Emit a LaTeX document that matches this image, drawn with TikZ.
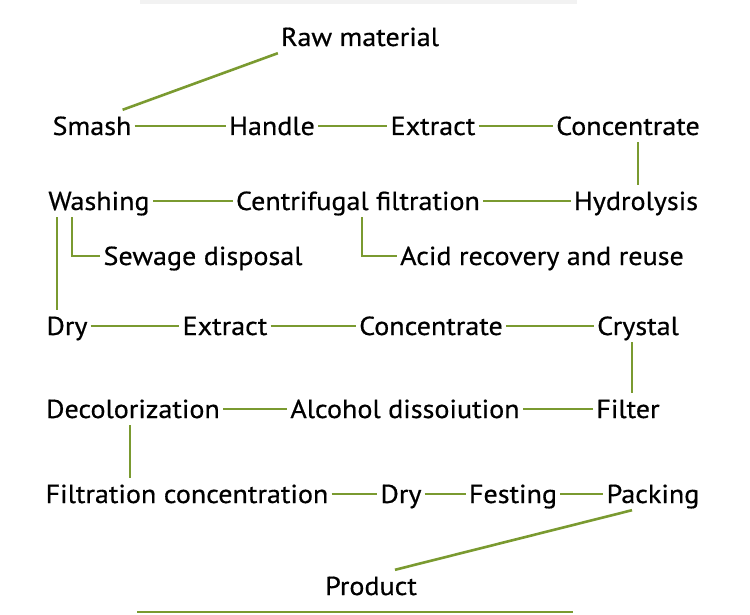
\documentclass[tikz,border=0pt]{standalone}
\usepackage{fontspec}
\setmainfont{PT Sans}[FakeStretch=1.08,FakeBold=0.6]
\definecolor{leaf}{RGB}{122,154,48}
\tikzset{
  stage/.style={anchor=base, inner xsep=3pt, inner ysep=7pt, text height=18pt, text depth=0pt,
    font=\fontsize{26}{30}\selectfont},
  link/.style={draw=leaf, line width=2.6pt},
}
\begin{document}
\begin{tikzpicture}[x=1pt,y=-1pt]
        \useasboundingbox (0,0) rectangle (750,615);
        \fill[black!5] (140,0) rectangle (577,4);
        % stages, row by row
        \node[stage] (raw) at (360,46) {Raw material};
        \node[stage] (smash) at (92,135) {Smash};
        \node[stage] (handle) at (272,135) {Handle};
        \node[stage] (extract1) at (433,135) {Extract};
        \node[stage] (conc1) at (628,135) {Concentrate};
        \node[stage] (wash) at (99,210) {Washing};
        \node[stage] (centri) at (358,210) {Centrifugal filtration};
        \node[stage] (hydro) at (636,210) {Hydrolysis};
        \node[stage] (sewage) at (203,265) {Sewage disposal};
        \node[stage] (acid) at (542,265) {Acid recovery and reuse};
        \node[stage] (dry1) at (67,335) {Dry};
        \node[stage] (extract2) at (225,335) {Extract};
        \node[stage] (conc2) at (431,335) {Concentrate};
        \node[stage] (crystal) at (638,335) {Crystal};
        \node[stage] (decol) at (133,418) {Decolorization};
        \node[stage] (alcohol) at (405,418) {Alcohol dissoiution};
        \node[stage] (filter) at (628,418) {Filter};
        \node[stage] (filtc) at (187,503) {Filtration concentration};
        \node[stage] (dry2) at (401,503) {Dry};
        \node[stage] (festing) at (513,503) {Festing};
        \node[stage] (packing) at (653,503) {Packing};
        \node[stage] (product) at (371,595) {Product};
        % connectors
        \draw[link] (raw.south west) -- ([xshift=-12pt]smash.north east);
        \draw[link] (smash) -- (handle);
        \draw[link] (handle) -- (extract1);
        \draw[link] (extract1) -- (conc1);
        \draw[link] ([xshift=10pt]conc1.south) -- ([xshift=10pt]conc1.south |- hydro.north);
        \draw[link] (hydro) -- (centri);
        \draw[link] (centri) -- (wash);
        \draw[link] ([xshift=-27pt]wash.south) |- (sewage.west);
        \draw[link] ([xshift=4pt]centri.south) |- (acid.west);
        \draw[link] ([xshift=-42pt]wash.south) -- ([xshift=-42pt]wash.south |- dry1.north);
        \draw[link] (dry1) -- (extract2);
        \draw[link] (extract2) -- (conc2);
        \draw[link] (conc2) -- (crystal);
        \draw[link] ([xshift=-6pt]crystal.south) -- ([xshift=-6pt]crystal.south |- filter.north);
        \draw[link] (filter) -- (alcohol);
        \draw[link] (alcohol) -- (decol);
        \draw[link] ([xshift=-3pt]decol.south) -- ([xshift=-3pt]decol.south |- filtc.north);
        \draw[link] (filtc) -- (dry2);
        \draw[link] (dry2) -- (festing);
        \draw[link] (festing) -- (packing);
        \draw[link] ([xshift=-21pt]packing.south) -- ([xshift=24pt]product.north);
        \draw[leaf, line width=2pt] (137,612) -- (573,612);
\end{tikzpicture}
\end{document}
